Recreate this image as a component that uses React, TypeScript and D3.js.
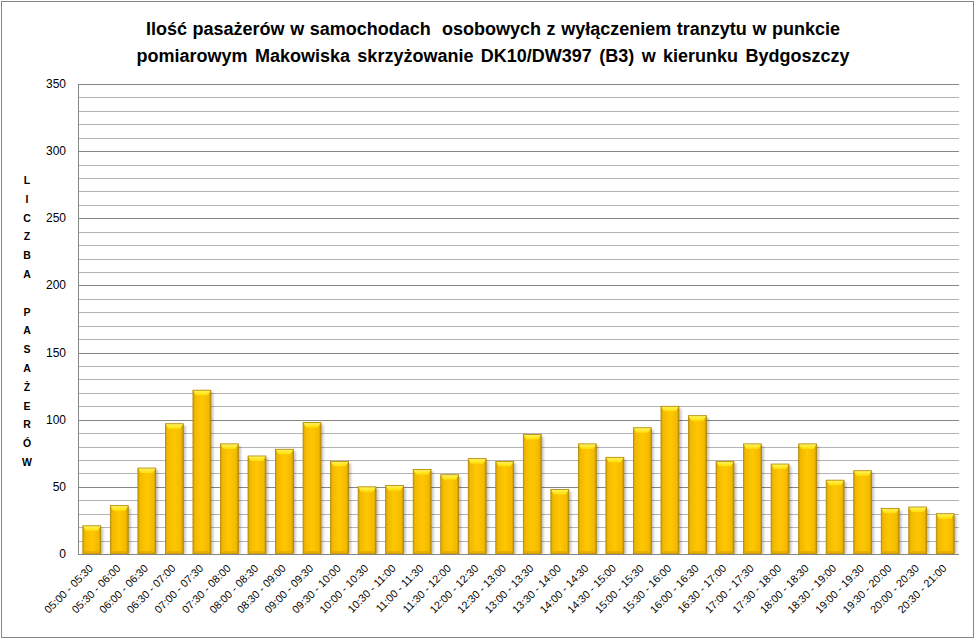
import React from "react";
import * as d3 from "d3";

const categories = [
  "05:00 - 05:30", "05:30 - 06:00", "06:00 - 06:30", "06:30 - 07:00",
  "07:00 - 07:30", "07:30 - 08:00", "08:00 - 08:30", "08:30 - 09:00",
  "09:00 - 09:30", "09:30 - 10:00", "10:00 - 10:30", "10:30 - 11:00",
  "11:00 - 11:30", "11:30 - 12:00", "12:00 - 12:30", "12:30 - 13:00",
  "13:00 - 13:30", "13:30 - 14:00", "14:00 - 14:30", "14:30 - 15:00",
  "15:00 - 15:30", "15:30 - 16:00", "16:00 - 16:30", "16:30 - 17:00",
  "17:00 - 17:30", "17:30 - 18:00", "18:00 - 18:30", "18:30 - 19:00",
  "19:00 - 19:30", "19:30 - 20:00", "20:00 - 20:30", "20:30 - 21:00",
];

const passengers = [
  21, 36, 64, 97, 122, 82, 73, 78, 98, 69, 50, 51, 63, 59, 71, 69,
  89, 48, 82, 72, 94, 110, 103, 69, 82, 67, 82, 55, 62, 34, 35, 30,
];

const yTicks = [0, 50, 100, 150, 200, 250, 300, 350];
const titleLines = [
  "Ilość pasażerów w samochodach  osobowych z wyłączeniem tranzytu w punkcie",
  "pomiarowym Makowiska skrzyżowanie DK10/DW397 (B3) w kierunku Bydgoszczy",
];
const yTitleLetters = "LICZBA PASAŻERÓW".split("");

const W = 978;
const H = 640;
const plot = { left: 78, right: 959, top: 84, bottom: 554 };

export default function App() {
  const x = d3
    .scaleBand<string>()
    .domain(categories)
    .range([plot.left, plot.right])
    .paddingInner(0.35)
    .paddingOuter(0.175);
  const y = d3.scaleLinear().domain([0, 350]).range([plot.bottom, plot.top]);
  const minor = d3.range(0, 351, 10);
  const bw = x.bandwidth();

  return (
    <svg
      width={W}
      height={H}
      style={{ position: "fixed", left: 0, top: 0, background: "#fff" }}
    >
      <defs>
        <linearGradient id="barBody" x1="0" x2="1" y1="0" y2="0">
          <stop offset="0" stopColor="#D39E00" />
          <stop offset="0.12" stopColor="#F2BA00" />
          <stop offset="0.5" stopColor="#FFC700" />
          <stop offset="0.88" stopColor="#F2BA00" />
          <stop offset="1" stopColor="#C48F00" />
        </linearGradient>
        <linearGradient id="barCap" x1="0" x2="0" y1="0" y2="1">
          <stop offset="0" stopColor="#FFF36A" />
          <stop offset="1" stopColor="#FFE000" />
        </linearGradient>
        <filter id="shadow" x="-20%" y="-5%" width="160%" height="120%">
          <feGaussianBlur stdDeviation="1.2" />
        </filter>
      </defs>
      <rect x={1.5} y={1.5} width={972} height={636} fill="#fff" stroke="#868686" />

      {titleLines.map((t, i) => (
        <text
          key={i}
          x={493}
          y={35 + i * 27}
          textAnchor="middle"
          fontFamily="'Liberation Sans', Arial, sans-serif"
          fontWeight="bold"
          fontSize={18}
          wordSpacing={i === 0 ? 0.6 : 2.4}
          fill="#000"
          style={{ whiteSpace: "pre" }}
        >
          {t}
        </text>
      ))}

      {minor.map((v) => (
        <line
          key={v}
          x1={plot.left}
          x2={plot.right}
          y1={Math.round(y(v)) + 0.5}
          y2={Math.round(y(v)) + 0.5}
          stroke={v % 50 === 0 ? "#868686" : "#B4B4B4"}
          strokeWidth={1}
        />
      ))}
      <line
        x1={plot.left + 0.5}
        x2={plot.left + 0.5}
        y1={plot.top}
        y2={plot.bottom}
        stroke="#868686"
      />

      {yTicks.map((v) => (
        <text
          key={v}
          x={66}
          y={y(v) + 4}
          textAnchor="end"
          fontFamily="'Liberation Sans', Arial, sans-serif"
          fontSize={12}
          fill="#000"
        >
          {v}
        </text>
      ))}

      <text
        x={27}
        y={184}
        textAnchor="middle"
        fontFamily="'Liberation Sans', Arial, sans-serif"
        fontWeight="bold"
        fontSize={10.5}
        fill="#000"
      >
        {yTitleLetters.map((c, i) => (
          <tspan key={i} x={27} dy={i === 0 ? 0 : 18.8}>
            {c === " " ? "\u00a0" : c}
          </tspan>
        ))}
      </text>

      {categories.map((c, i) => {
        const x0 = x(c)!;
        const top = y(passengers[i]);
        const h = plot.bottom - top;
        const cap = 5;
        return (
          <g key={c}>
            <rect
              x={x0 + 2.5}
              y={top + 2}
              width={bw}
              height={h - 2}
              fill="#000"
              opacity={0.22}
              filter="url(#shadow)"
            />
            <rect
              x={x0}
              y={top}
              width={bw}
              height={h}
              fill="url(#barBody)"
            />
            <path
              d={`M${x0},${top}L${x0 + bw},${top}L${x0 + bw - 3},${top + cap}L${x0 + 3},${top + cap}Z`}
              fill="url(#barCap)"
            />
            <path
              d={`M${x0},${plot.bottom}L${x0 + bw},${plot.bottom}L${x0 + bw - 3},${plot.bottom - 3}L${x0 + 3},${plot.bottom - 3}Z`}
              fill="#D9A000"
              opacity={0.6}
            />
            <rect
              x={x0}
              y={top}
              width={bw}
              height={h}
              fill="none"
              stroke="#B08600"
              strokeWidth={0.8}
            />
          </g>
        );
      })}

      <line
        x1={plot.left}
        x2={plot.right}
        y1={plot.bottom + 0.5}
        y2={plot.bottom + 0.5}
        stroke="#868686"
      />

      {categories.map((c) => {
        const cx = x(c)! + bw / 2 + 2;
        const cy = 569;
        return (
          <text
            key={c}
            transform={`translate(${cx},${cy}) rotate(-45)`}
            textAnchor="end"
            fontFamily="'Liberation Sans', Arial, sans-serif"
            fontSize={10.8}
            fill="#000"
          >
            {c}
          </text>
        );
      })}
    </svg>
  );
}
